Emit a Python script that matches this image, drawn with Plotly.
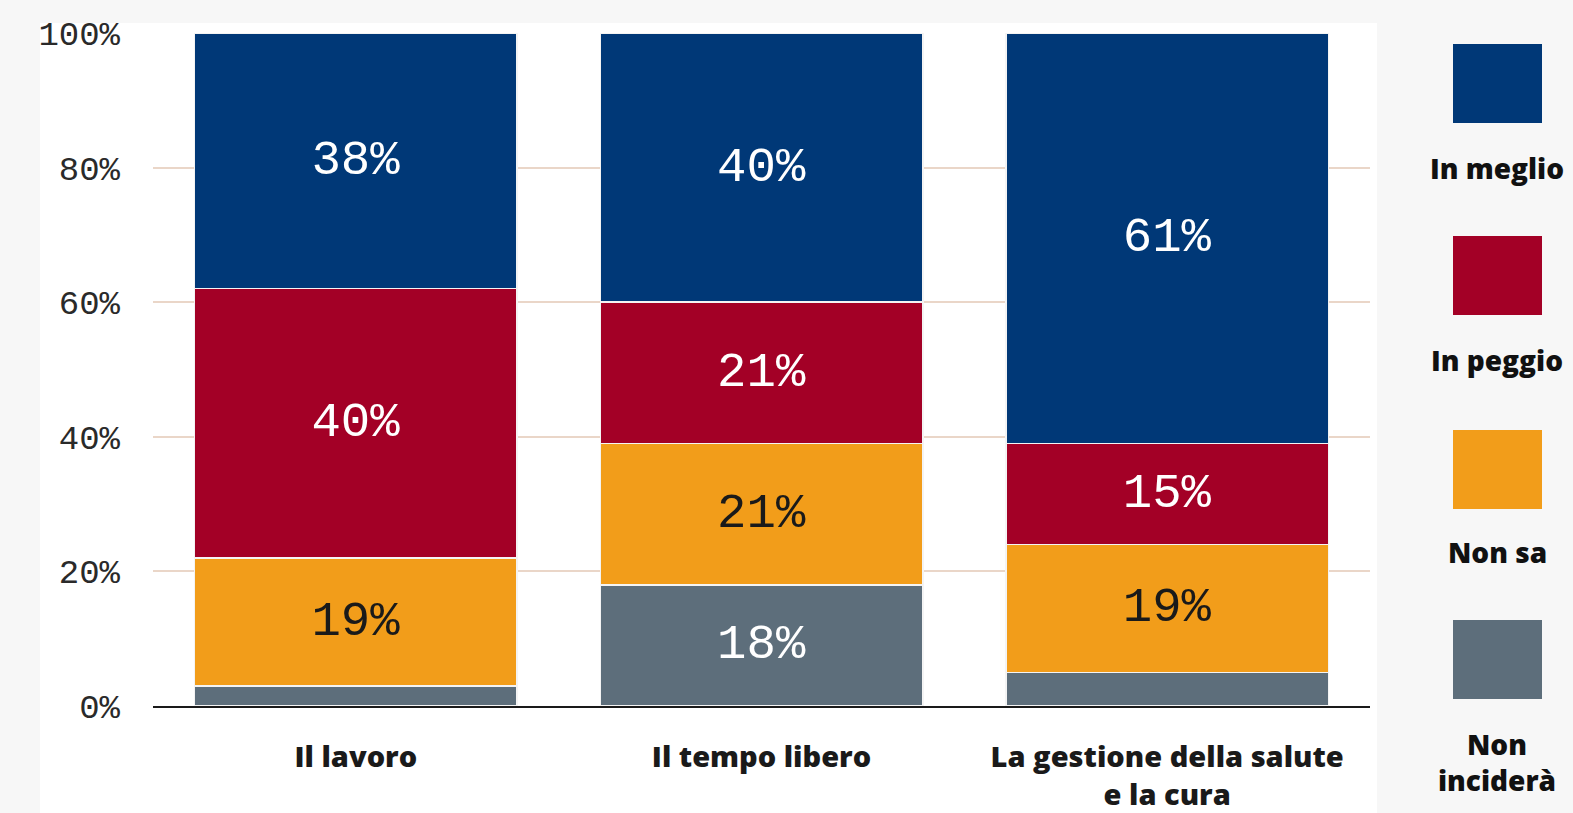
import plotly.graph_objects as go

categories = ["Il lavoro", "Il tempo libero", "La gestione della salute<br>e la cura"]
series_names = ["Non inciderà", "Non sa", "In peggio", "In meglio"]
non_incidera = [3, 18, 5]
non_sa = [19, 21, 19]
in_peggio = [40, 21, 15]
in_meglio = [38, 40, 61]
series_values = [non_incidera, non_sa, in_peggio, in_meglio]
colors = ["#5d6e7b", "#f29d1a", "#a30026", "#003877"]
text_colors = ["#ffffff", "#1a1a1a", "#ffffff", "#ffffff"]
legend_labels = ["In meglio", "In peggio", "Non sa", "Non<br>inciderà"]
legend_colors = ["#003877", "#a30026", "#f29d1a", "#5d6e7b"]
tick_vals = [0, 20, 40, 60, 80, 100]
tick_text = ["0%", "20%", "40%", "60%", "80%", "100%"]

W, H = 1573, 813
L, R, T, B = 153, 1370, 33, 706


def px(x):
    return (x - L) / (R - L)


def py(y):
    return (B - y) / (B - T)


fig = go.Figure()
for name, vals, c, tc in zip(series_names, series_values, colors, text_colors):
    fig.add_trace(go.Bar(
        x=categories, y=vals, name=name,
        marker=dict(color=c, line=dict(color="#f4f4f4", width=1.5)),
        text=[f"{v}%" if v >= 10 else "" for v in vals],
        textposition="inside", insidetextanchor="middle",
        textangle=0, constraintext="none",
        textfont=dict(family="Liberation Mono", size=49, color=tc),
        hoverinfo="skip",
    ))

shapes = [dict(type="rect", xref="paper", yref="paper",
               x0=px(40), x1=px(1377), y0=py(813), y1=py(23),
               fillcolor="#ffffff", line=dict(width=0), layer="below")]
annotations = []
sq_tops = [44, 236, 430, 620]
lab_y = [168, 360, 552, 762]
for top, lab, c, ly in zip(sq_tops, legend_labels, legend_colors, lab_y):
    shapes.append(dict(type="rect", xref="paper", yref="paper",
                       x0=px(1453), x1=px(1542), y0=py(top + 79), y1=py(top),
                       fillcolor=c, line=dict(width=0)))
    annotations.append(dict(xref="paper", yref="paper", x=px(1497), y=py(ly),
                            text=lab, showarrow=False,
                            xanchor="center", yanchor="middle",
                            font=dict(family="Open Sans", size=28, weight=800,
                                      color="#111111")))

fig.update_layout(
    width=W, height=H,
    margin=dict(l=L, r=W - R, t=T, b=H - B),
    barmode="stack", bargap=0.205,
    paper_bgcolor="#f7f7f7", plot_bgcolor="rgba(0,0,0,0)",
    showlegend=False,
    shapes=shapes, annotations=annotations,
    xaxis=dict(showline=True, linecolor="#1a1a1a", linewidth=2,
               showgrid=False, ticks="", ticklabelstandoff=24,
               automargin=False,
               tickfont=dict(family="Open Sans", size=29, weight=800,
                             color="#1a1a1a")),
    yaxis=dict(range=[0, 100], tickvals=tick_vals, ticktext=tick_text,
               showgrid=True, gridcolor="#ead6c8", gridwidth=1.5,
               zeroline=False, ticks="", ticklabelstandoff=32,
               automargin=False,
               tickfont=dict(family="Liberation Mono", size=34, color="#2a2a2a")),
)

fig.write_html(
    "out.html",
    config={"displayModeBar": False},
    post_script="document.body.style.margin='0';"
                "document.body.style.background='#f7f7f7';"
                "document.body.style.overflow='hidden';",
)
